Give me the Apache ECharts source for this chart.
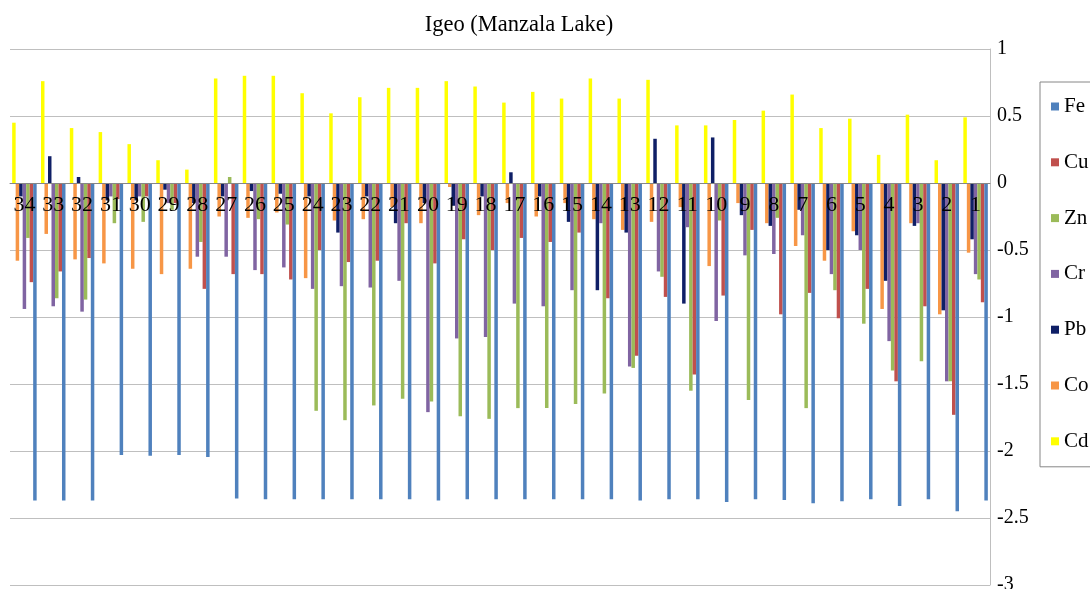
<!DOCTYPE html>
<html>
<head>
<meta charset="utf-8">
<script src="https://cdn.jsdelivr.net/npm/echarts@6/dist/echarts.min.js"></script>
<style>
html,body{margin:0;padding:0;background:#fff;}
#chart{width:1090px;height:589px;}
</style>
</head>
<body>
<div id="chart"></div>
<script>
const categories = ['34','33','32','31','30','29','28','27','26','25','24','23','22','21','20','19','18','17','16','15','14','13','12','11','10','9','8','7','6','5','4','3','2','1'];
const seriesNames = ['Fe','Cu','Zn','Cr','Pb','Co','Cd'];
const yTicks = [-3,-2.5,-2,-1.5,-1,-0.5,0,0.5,1];

const Fe = [-2.37,-2.37,-2.37,-2.03,-2.035,-2.03,-2.045,-2.355,-2.36,-2.36,-2.36,-2.36,-2.36,-2.36,-2.37,-2.36,-2.36,-2.36,-2.36,-2.36,-2.36,-2.37,-2.36,-2.36,-2.38,-2.36,-2.365,-2.39,-2.375,-2.36,-2.41,-2.36,-2.45,-2.37];
const Cu = [-0.74,-0.66,-0.56,-0.12,-0.10,-0.15,-0.79,-0.68,-0.68,-0.72,-0.50,-0.59,-0.58,-0.30,-0.60,-0.42,-0.50,-0.41,-0.44,-0.37,-0.86,-1.29,-0.85,-1.43,-0.84,-0.35,-0.98,-0.82,-1.01,-0.79,-1.48,-0.92,-1.73,-0.89];
const Zn = [-0.41,-0.86,-0.87,-0.30,-0.29,-0.20,-0.44,0.045,-0.27,-0.31,-1.70,-1.77,-1.66,-1.61,-1.63,-1.74,-1.76,-1.68,-1.68,-1.65,-1.57,-1.38,-0.70,-1.55,-0.28,-1.62,-0.26,-1.68,-0.80,-1.05,-1.40,-1.33,-1.48,-0.72];
const Cr = [-0.94,-0.92,-0.96,-0.10,-0.10,-0.15,-0.55,-0.55,-0.65,-0.63,-0.79,-0.77,-0.78,-0.73,-1.71,-1.16,-1.15,-0.90,-0.92,-0.80,-0.30,-1.37,-0.66,-0.33,-1.03,-0.54,-0.53,-0.39,-0.68,-0.50,-1.18,-0.30,-1.48,-0.68];
const Pb = [-0.10,0.20,0.045,-0.13,-0.13,-0.05,-0.15,-0.10,-0.06,-0.08,-0.10,-0.37,-0.10,-0.30,-0.15,-0.17,-0.10,0.08,-0.10,-0.29,-0.80,-0.37,0.33,-0.90,0.34,-0.24,-0.32,-0.20,-0.50,-0.39,-0.73,-0.32,-0.95,-0.42];
const Co = [-0.58,-0.38,-0.57,-0.60,-0.64,-0.68,-0.64,-0.25,-0.26,-0.22,-0.71,-0.28,-0.27,-0.18,-0.30,-0.03,-0.24,-0.15,-0.25,-0.15,-0.27,-0.35,-0.29,-0.18,-0.62,-0.15,-0.30,-0.47,-0.58,-0.36,-0.94,-0.30,-0.98,-0.52];
const Cd = [0.45,0.76,0.41,0.38,0.29,0.17,0.10,0.78,0.80,0.80,0.67,0.52,0.64,0.71,0.71,0.76,0.72,0.60,0.68,0.63,0.78,0.63,0.77,0.43,0.43,0.47,0.54,0.66,0.41,0.48,0.21,0.51,0.17,0.49];

const dataByName = {Fe, Cu, Zn, Cr, Pb, Co, Cd};
const colors = {Fe:'#4F81BD', Cu:'#C0504D', Zn:'#9BBB59', Cr:'#8064A2', Pb:'#0F1F66', Co:'#F79646', Cd:'#FFFF00'};
const drawOrder = ['Cd','Co','Pb','Cr','Zn','Cu','Fe'];

const Y_MIN = -3, Y_MAX = 1;
const GRID_TOP = 49, GRID_BOTTOM = 4, H = 589;
const gridH = H - GRID_TOP - GRID_BOTTOM;
// move the category axis from the grid bottom up to the value 0
const zeroOffset = -gridH * (0 - Y_MIN) / (Y_MAX - Y_MIN);

const serif = '"Liberation Serif", "DejaVu Serif", serif';
const chart = echarts.init(document.getElementById('chart'), null, {renderer:'canvas'});
chart.setOption({
  animation: false,
  backgroundColor: '#ffffff',
  title: {
    text: 'Igeo (Manzala Lake)',
    left: 514, textAlign: 'center', top: 9,
    textStyle: {fontFamily: serif, fontSize: 22.5, fontWeight: 'normal', color: '#000'}
  },
  legend: {
    data: seriesNames,
    orient: 'vertical',
    left: 1040, top: 82,
    padding: [14, 10, 15, 11],
    itemWidth: 8, itemHeight: 8, itemGap: 34.8,
    icon: 'rect',
    borderColor: '#868686', borderWidth: 1,
    textStyle: {fontFamily: serif, fontSize: 21, color: '#000', lineHeight: 20}
  },
  grid: {left: 10, right: 100, top: GRID_TOP, bottom: GRID_BOTTOM, containLabel: false, outerBoundsMode: 'none'},
  xAxis: {
    type: 'category',
    data: categories,
    z: 10,
    offset: zeroOffset,
    axisLine: {onZero: false, lineStyle: {color: '#868686', width: 1}},
    axisTick: {show: false},
    axisLabel: {fontFamily: serif, fontSize: 22, color: '#000', margin: 11, interval: 0},
    splitLine: {show: false}
  },
  yAxis: {
    type: 'value',
    position: 'right',
    min: Y_MIN, max: Y_MAX, interval: 0.5,
    axisLine: {show: true, lineStyle: {color: '#bfbfbf'}},
    axisTick: {show: false},
    axisLabel: {fontFamily: serif, fontSize: 20, color: '#000', margin: 7,
      formatter: v => String(yTicks.find(t => Math.abs(t - v) < 1e-9) ?? v)},
    splitLine: {show: true, lineStyle: {color: '#bfbfbf', width: 1}}
  },
  series: drawOrder.map(n => ({
    name: n,
    type: 'bar',
    data: dataByName[n],
    barGap: '0%',
    barCategoryGap: '15%',
    itemStyle: {color: colors[n]},
    emphasis: {disabled: true}
  }))
});
</script>
</body>
</html>
